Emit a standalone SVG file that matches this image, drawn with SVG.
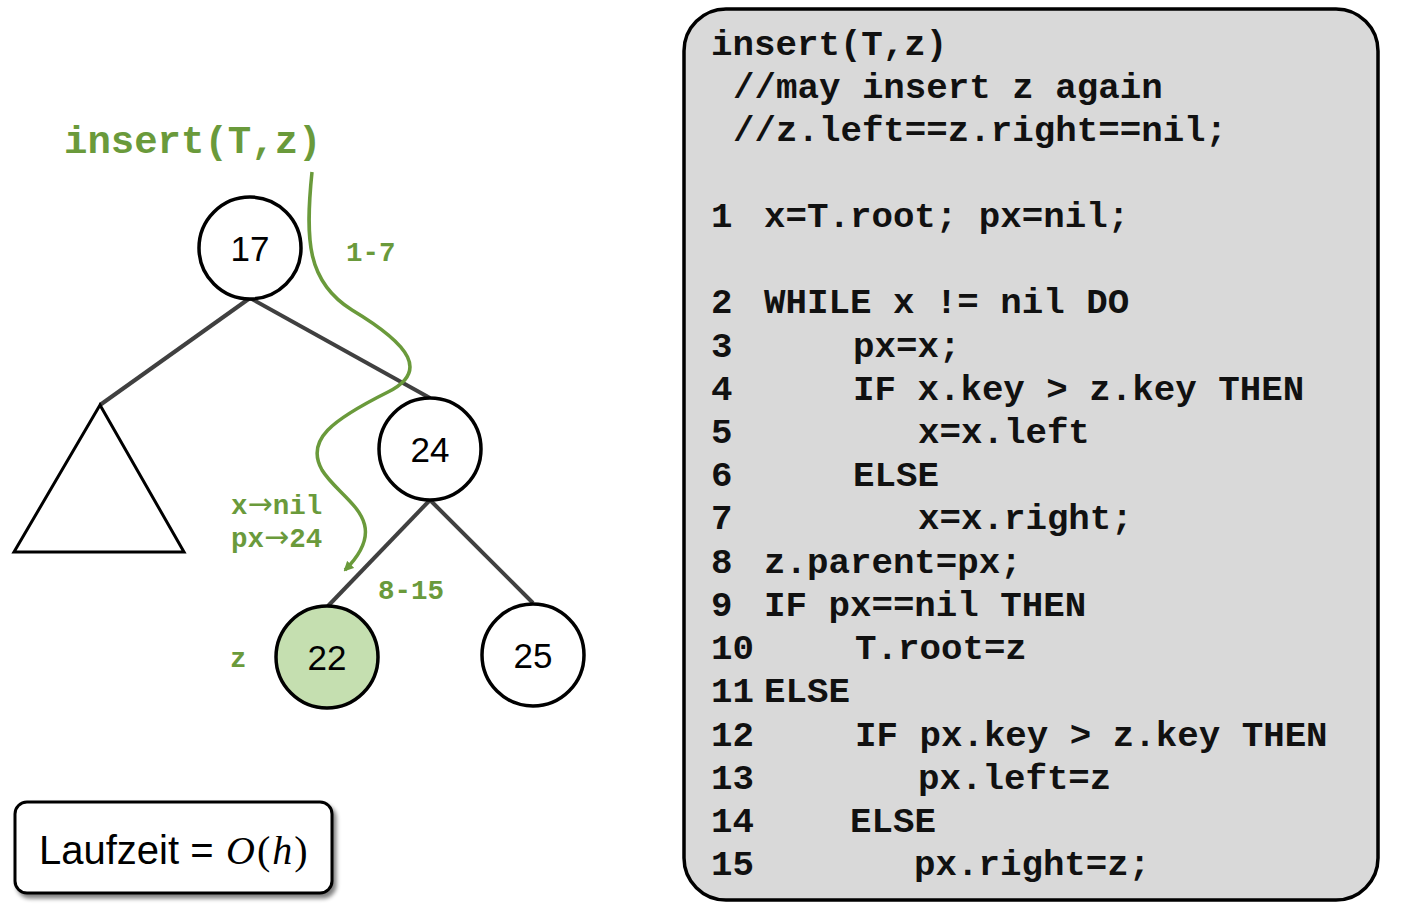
<svg xmlns="http://www.w3.org/2000/svg" width="1404" height="907" viewBox="0 0 1404 907">
<style>
.node{fill:#fff;stroke:#000;stroke-width:3.5}
.nt{font-family:"Liberation Sans",Arial,sans-serif;font-size:35px;text-anchor:middle;fill:#000}
.edge{stroke:#404040;stroke-width:4;fill:none}
.g{font-family:"Liberation Mono","Courier New",monospace;font-weight:bold;fill:#6a9a3b}
.ar{font-family:"DejaVu Sans",sans-serif;font-weight:normal;font-size:30px}
.code{font-family:"Liberation Mono","Courier New",monospace;font-weight:bold;font-size:35.8px;fill:#111}
.m{font-family:"Liberation Serif","Times New Roman",serif;font-size:40px}
</style>
<defs>
<marker id="arr" markerWidth="10" markerHeight="10" refX="8" refY="5" orient="auto" markerUnits="userSpaceOnUse" viewBox="0 0 10 10">
<path d="M0,0 L10,5 L0,10 Z" fill="#6a9a3b"/>
</marker>
<filter id="sh" x="-10%" y="-10%" width="130%" height="140%">
<feGaussianBlur in="SourceAlpha" stdDeviation="2"/>
<feOffset dx="3" dy="4"/>
<feComponentTransfer><feFuncA type="linear" slope="0.5"/></feComponentTransfer>
<feMerge><feMergeNode/><feMergeNode in="SourceGraphic"/></feMerge>
</filter>
</defs>
<rect width="1404" height="907" fill="#fff"/>

<g id="connectors">
<line class="edge" x1="250" y1="298" x2="100" y2="405"/>
<line class="edge" x1="250" y1="298" x2="430" y2="398"/>
<line class="edge" x1="430" y1="500" x2="328" y2="606"/>
<line class="edge" x1="430" y1="500" x2="533" y2="603"/>
<path d="M312,172 C305,240 307,282 352,310 C412,346 428,372 388,392 C332,420 305,440 322,470 C340,500 395,520 345,570" fill="none" stroke="#6a9a3b" stroke-width="3.5" marker-end="url(#arr)"/>
</g>

<g id="subtree">
<polygon points="100,405 14,552 184,552" fill="#fff" stroke="#000" stroke-width="3"/>
</g>
<g id="n17"><circle class="node" cx="250" cy="248" r="51"/><text class="nt" x="250" y="261">17</text></g>
<g id="n24"><circle class="node" cx="430" cy="449" r="51"/><text class="nt" x="430" y="462">24</text></g>
<g id="n22"><circle cx="327" cy="657" r="51" fill="#c5dfb0" stroke="#000" stroke-width="3.5"/><text class="nt" x="327" y="670">22</text></g>
<g id="n25"><circle class="node" cx="533" cy="655" r="51"/><text class="nt" x="533" y="668">25</text></g>

<g id="labels">
<text class="g" x="64" y="153" font-size="39">insert(T,z)</text>
<text class="g" x="346" y="261" font-size="27.5">1-7</text>
<text class="g" x="231" y="514" font-size="27.5">x<tspan class="ar">→</tspan>nil</text>
<text class="g" x="231" y="547" font-size="27.5">px<tspan class="ar">→</tspan>24</text>
<text class="g" x="378" y="599" font-size="27.5">8-15</text>
<text class="g" x="230" y="667" font-size="27.5">z</text>
</g>

<g id="laufzeit">
<rect x="15" y="802" width="317" height="91" rx="12" fill="#fff" stroke="#000" stroke-width="3" filter="url(#sh)"/>
<text x="39" y="864" font-family="'Liberation Sans',Arial,sans-serif" font-size="40" fill="#000">Laufzeit =</text>
<text x="226" y="864" fill="#000" letter-spacing="2"><tspan class="m" font-style="italic">O</tspan><tspan class="m">(</tspan><tspan class="m" font-style="italic">h</tspan><tspan class="m">)</tspan></text>
</g>

<g id="codebox">
<rect x="684" y="9" width="694" height="891" rx="42" fill="#d9d9d9" stroke="#000" stroke-width="3.5"/>
<text class="code" x="711" y="55">insert(T,z)</text>
<text class="code" x="733" y="98">//may insert z again</text>
<text class="code" x="733" y="141">//z.left==z.right==nil;</text>
<text class="code" x="711" y="227">1</text><text class="code" x="764" y="227">x=T.root; px=nil;</text>
<text class="code" x="711" y="313">2</text><text class="code" x="764" y="313">WHILE x != nil DO</text>
<text class="code" x="711" y="357">3</text><text class="code" x="853" y="357">px=x;</text>
<text class="code" x="711" y="400">4</text><text class="code" x="853" y="400">IF x.key &gt; z.key THEN</text>
<text class="code" x="711" y="443">5</text><text class="code" x="918" y="443">x=x.left</text>
<text class="code" x="711" y="486">6</text><text class="code" x="853" y="486">ELSE</text>
<text class="code" x="711" y="529">7</text><text class="code" x="918" y="529">x=x.right;</text>
<text class="code" x="711" y="573">8</text><text class="code" x="764" y="573">z.parent=px;</text>
<text class="code" x="711" y="616">9</text><text class="code" x="764" y="616">IF px==nil THEN</text>
<text class="code" x="711" y="659">10</text><text class="code" x="855" y="659">T.root=z</text>
<text class="code" x="711" y="702">11</text><text class="code" x="764" y="702">ELSE</text>
<text class="code" x="711" y="746">12</text><text class="code" x="855" y="746">IF px.key &gt; z.key THEN</text>
<text class="code" x="711" y="789">13</text><text class="code" x="918" y="789">px.left=z</text>
<text class="code" x="711" y="832">14</text><text class="code" x="850" y="832">ELSE</text>
<text class="code" x="711" y="875">15</text><text class="code" x="914" y="875">px.right=z;</text>
</g>
</svg>
